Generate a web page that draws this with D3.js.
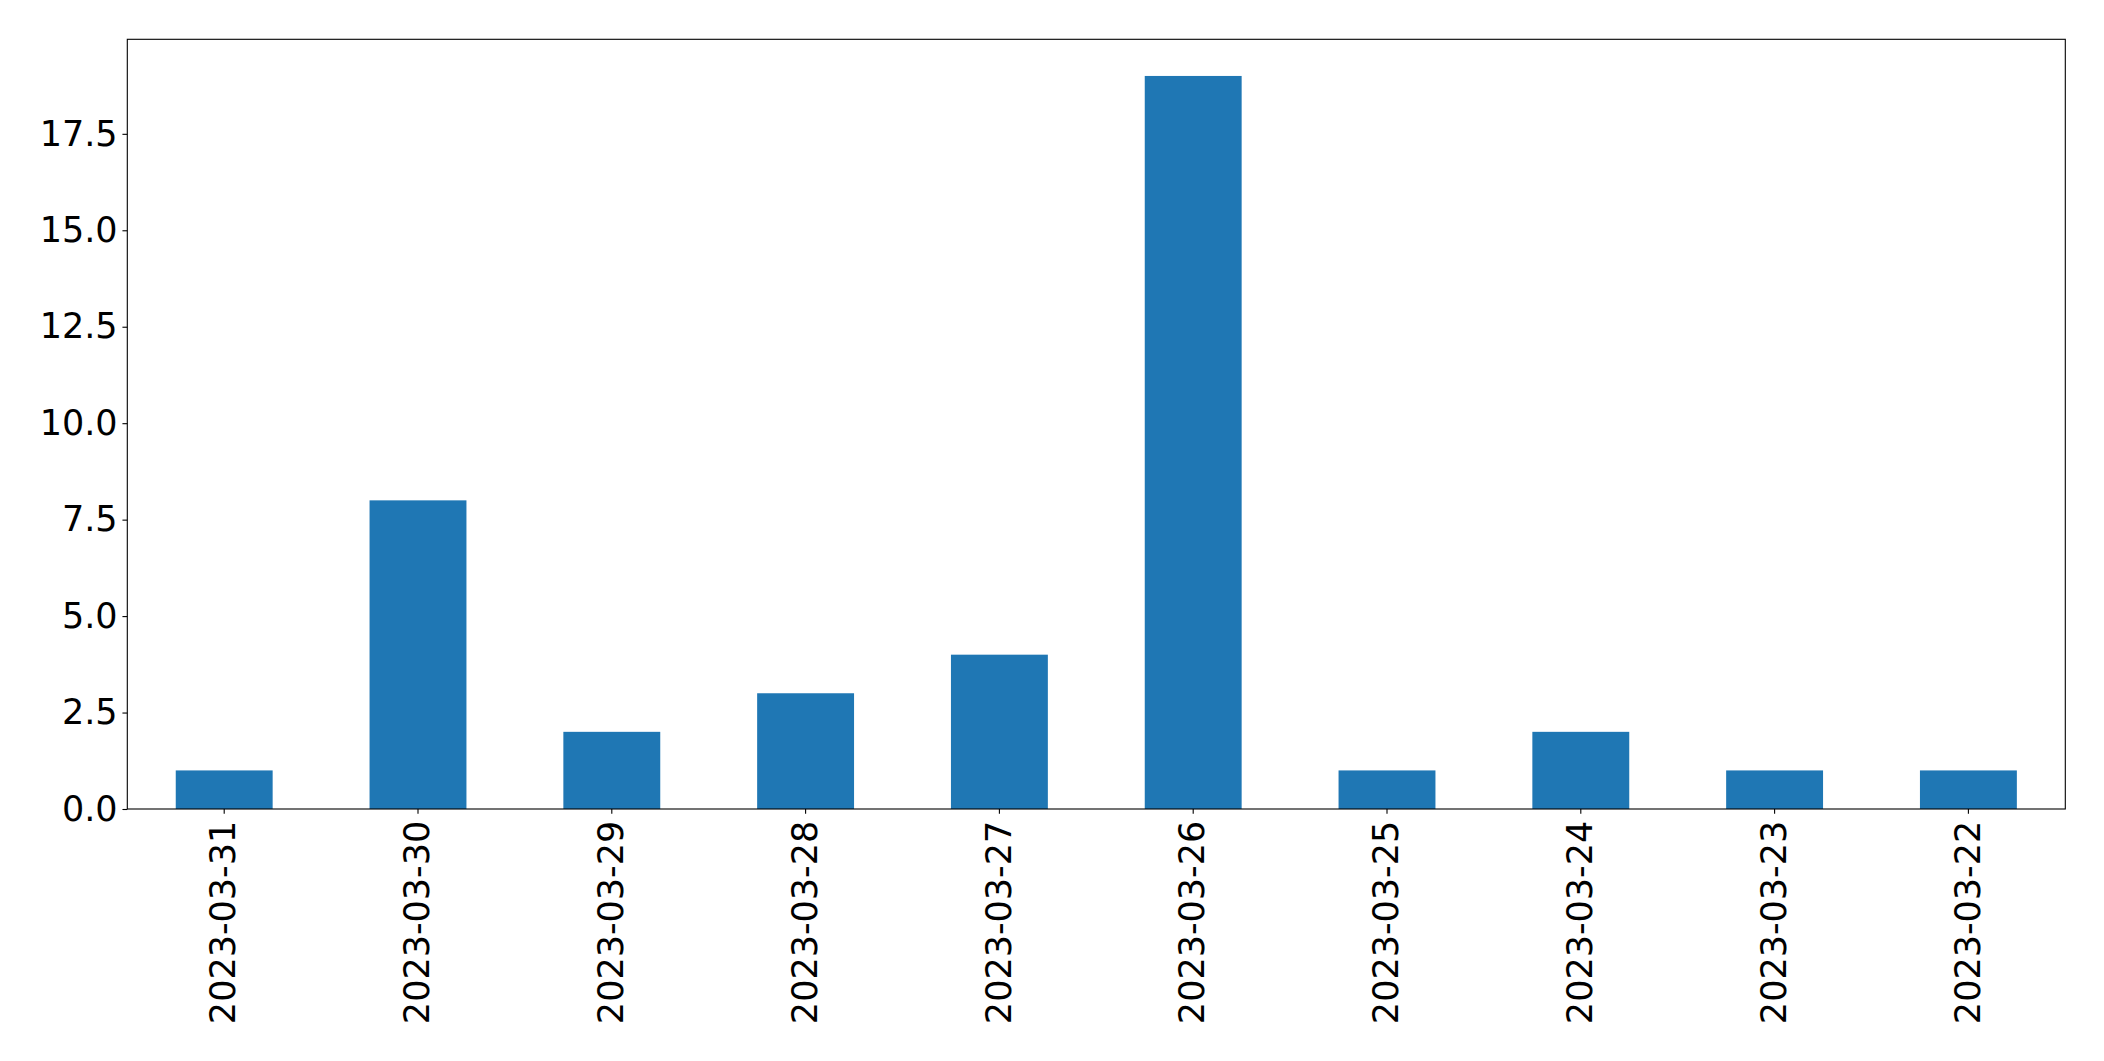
<!DOCTYPE html>
<html>
<head>
<meta charset="utf-8">
<script src="https://cdn.jsdelivr.net/npm/d3@7"></script>
<style>
  html, body { margin: 0; padding: 0; background: #fff; }
  svg { display: block; }
  text { font-family: "DejaVu Sans", sans-serif; fill: #000; }
</style>
</head>
<body>
<script>
const categories = ["2023-03-31","2023-03-30","2023-03-29","2023-03-28","2023-03-27","2023-03-26","2023-03-25","2023-03-24","2023-03-23","2023-03-22"];
const values = [1, 8, 2, 3, 4, 19, 1, 2, 1, 1];
const yTicks = [0, 2.5, 5, 7.5, 10, 12.5, 15, 17.5];

const W = 2104, H = 1061;
const mLeft = 127.3, mRight = 2065.3, mTop = 39.3, mBottom = 809;
const fontPx = 35, tickLen = 4.86, pad = 4.86;

const svg = d3.select("body").append("svg").attr("width", W).attr("height", H);

const x = d3.scaleBand().domain(categories).range([mLeft, mRight]).paddingInner(0.5).paddingOuter(0.25);
const y = d3.scaleLinear().domain([0, d3.max(values) * 1.05]).range([mBottom, mTop]);

svg.append("g").selectAll("rect").data(values).join("rect")
  .attr("x", (d, i) => x(categories[i]))
  .attr("width", x.bandwidth())
  .attr("y", d => y(d))
  .attr("height", d => y(0) - y(d))
  .attr("fill", "#1f77b4");

// Y axis
const yAxis = svg.append("g").attr("transform", `translate(${mLeft},0)`)
  .call(d3.axisLeft(y).tickValues(yTicks).tickFormat(d3.format(".1f")).tickSize(tickLen).tickPadding(pad));
yAxis.select(".domain").remove();
yAxis.selectAll("line").attr("stroke", "#000").attr("stroke-width", 1.1);
yAxis.selectAll("text").attr("font-size", fontPx).attr("font-family", "DejaVu Sans, sans-serif").attr("fill", "#000");

// X axis
const xAxis = svg.append("g").attr("transform", `translate(0,${mBottom})`)
  .call(d3.axisBottom(x).tickSize(tickLen).tickPadding(pad));
xAxis.select(".domain").remove();
xAxis.selectAll("line").attr("stroke", "#000").attr("stroke-width", 1.1);
xAxis.selectAll("text")
  .attr("font-size", fontPx).attr("font-family", "DejaVu Sans, sans-serif").attr("fill", "#000")
  .attr("transform", "rotate(-90)")
  .attr("text-anchor", "end")
  .attr("x", -(tickLen + pad + 2))
  .attr("y", 0)
  .attr("dy", "0.32em");

// Frame
svg.append("rect").attr("x", mLeft).attr("y", mTop).attr("width", mRight - mLeft).attr("height", mBottom - mTop)
  .attr("fill", "none").attr("stroke", "#000").attr("stroke-width", 1.1);
</script>
</body>
</html>
